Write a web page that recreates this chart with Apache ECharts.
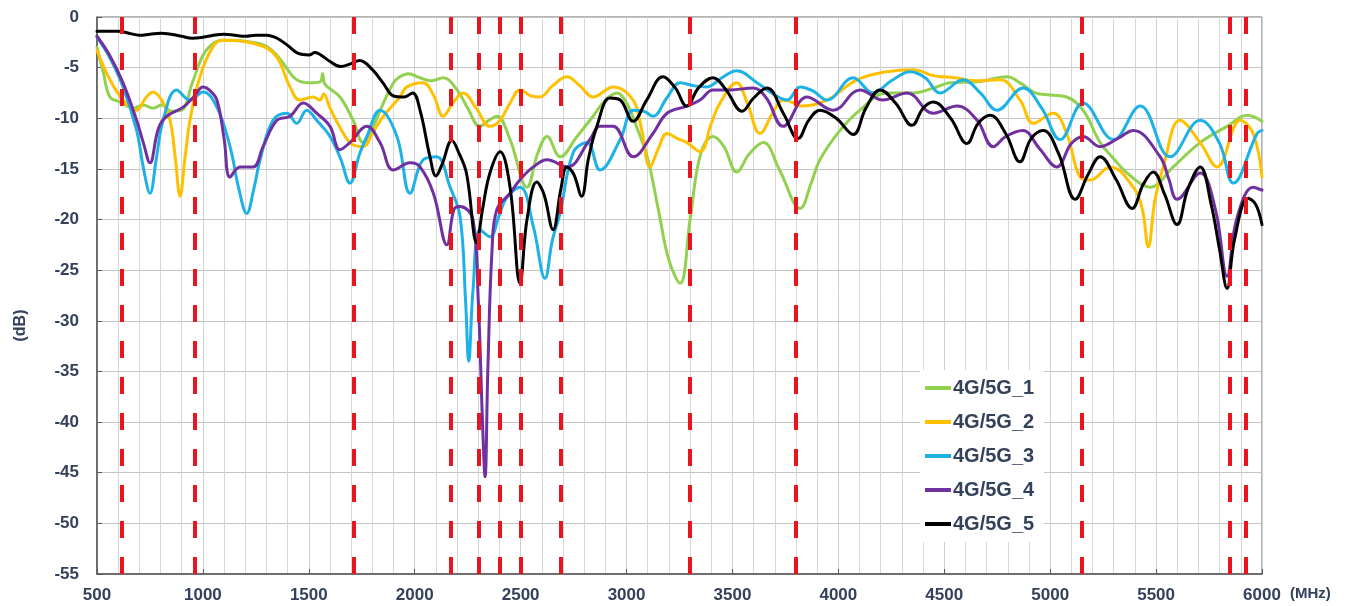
<!DOCTYPE html>
<html>
<head>
<meta charset="utf-8">
<script src="https://cdn.jsdelivr.net/npm/echarts@6/dist/echarts.min.js"></script>
<style>
html,body{margin:0;padding:0;background:#fff;}
#chart{width:1356px;height:606px;}
</style>
</head>
<body>
<div id="chart"></div>
<script>
// ---- Data (frequency in MHz, level in dB) ----
const seriesNames = ['4G/5G_1', '4G/5G_2', '4G/5G_3', '4G/5G_4', '4G/5G_5'];
const xTicks = [500, 1000, 1500, 2000, 2500, 3000, 3500, 4000, 4500, 5000, 5500, 6000];
const yTicks = [0, -5, -10, -15, -20, -25, -30, -35, -40, -45, -50, -55];
const bandLines = [617, 960, 1710, 2170, 2300, 2400, 2500, 2690, 3300, 3800, 5150, 5850, 5925];

const s1Freq = [500,530,561,609,671,718,764,805,850,900,
  950,1000,1050,1100,1200,1290,1350,1400,1443,1500,
  1553,1565,1575,1647,1709,1757,1800,1852,1900,1930,
  1970,2025,2080,2134,2200,2250,2308,2350,2388,2450,
  2530,2580,2625,2686,2766,2842,2900,2955,3000,3050,
  3100,3150,3200,3253,3300,3350,3408,3460,3520,3580,
  3646,3720,3820,3870,3913,4008,4102,4229,4353,4450,
  4527,4655,4797,4858,4930,5000,5078,5155,5236,5300,
  5363,5472,5581,5708,5835,5930,6000];
const s1Db = [-3,-5.5,-7.9,-8.4,-9,-8.7,-9,-8.7,-9.3,-9.2,
  -6.5,-3.8,-2.6,-2.3,-2.4,-2.8,-3.8,-5.2,-6.2,-6.5,
  -6.4,-5.6,-6.6,-7.9,-10.2,-12.4,-11,-8.5,-6.5,-5.9,
  -5.6,-6.0,-6.3,-6.0,-7.2,-9,-10.8,-10.2,-9.8,-12.1,
  -16.8,-13.5,-11.8,-13.8,-11.8,-9.8,-8.2,-7.5,-8.5,-11,
  -14,-19,-24,-26.3,-20,-13.5,-11.8,-12.8,-15.3,-13.5,
  -12.4,-15,-18.9,-16.5,-14.1,-11.2,-9.2,-7.5,-7.5,-7,
  -6.5,-6.4,-5.9,-6.5,-7.5,-7.7,-7.9,-9.2,-12.4,-14,
  -15.4,-16.8,-14.8,-12.4,-10.8,-9.7,-10.3];

const s2Freq = [500,561,623,687,730,764,805,845,870,892,
  915,939,986,1048,1095,1189,1284,1330,1364,1411,
  1458,1520,1553,1570,1600,1650,1700,1757,1800,1852,
  1930,1963,2040,2090,2134,2180,2228,2290,2355,2403,
  2450,2497,2550,2592,2650,2719,2780,2842,2937,3031,
  3070,3111,3150,3191,3240,3285,3347,3400,3441,3520,
  3570,3630,3690,3739,3790,3820,3946,4088,4229,4353,
  4450,4550,4650,4763,4858,4920,5014,5078,5141,5189,
  5283,5392,5435,5463,5495,5534,5613,5708,5788,5897,
  5958,6000];
const s2Db = [-3.3,-6.2,-8.2,-9.2,-8,-7.4,-8.2,-10.2,-14,-17.7,
  -14,-10.2,-5.9,-2.9,-2.3,-2.4,-2.9,-3.5,-4.5,-6.9,
  -8.2,-7.9,-8.2,-7.6,-9,-11,-12.5,-12.8,-11.5,-9.8,
  -7.9,-6.9,-6.5,-7.8,-9.8,-8.5,-7.5,-9,-10.8,-10.2,
  -8.5,-7.2,-7.8,-7.9,-6.8,-5.9,-6.8,-7.9,-6.9,-8.2,
  -11,-14.8,-13,-11.5,-12,-12.4,-13.3,-10.5,-8.5,-6.5,
  -8.5,-11.5,-9.5,-8.2,-8.5,-8.8,-8.2,-6.2,-5.4,-5.2,
  -5.8,-6,-6.3,-6.2,-8.2,-10.5,-9.5,-11.5,-15.8,-16.1,
  -14.8,-16.8,-19,-22.7,-18,-14.8,-10.2,-12.4,-14.8,-10.2,
  -11.5,-15.8];

const s3Freq = [500,560,623,687,720,750,780,812,876,939,
  1001,1066,1128,1170,1207,1240,1270,1331,1397,1443,
  1490,1537,1600,1650,1694,1740,1774,1836,1916,1978,
  2040,2103,2167,2214,2240,2255,2275,2308,2355,2400,
  2435,2497,2560,2615,2650,2686,2748,2814,2875,2970,
  3031,3080,3125,3190,3253,3320,3380,3450,3520,3616,
  3700,3758,3820,3880,3946,4070,4164,4250,4339,4410,
  4480,4589,4670,4749,4872,4960,5047,5155,5298,5425,
  5566,5708,5800,5864,5977,6000];
const s3Db = [-2,-4,-6.9,-11.2,-15,-17.4,-14,-10.2,-7.2,-8.2,
  -7.4,-8.9,-12.8,-17,-19.4,-17,-14.1,-10.2,-9.5,-10.5,
  -9.2,-10.2,-11.8,-14,-16.4,-13.5,-11.8,-9.2,-11.8,-17.4,
  -14.1,-13.8,-16.8,-19.7,-28,-34,-27,-21,-21.7,-19.5,
  -17.8,-16.8,-20.7,-25.8,-22,-19.4,-13.4,-12.4,-15.1,-12.1,
  -9.2,-9.3,-9.8,-8,-6.5,-6.8,-6.9,-6,-5.3,-6.5,
  -7.7,-8.2,-6.9,-7.3,-8.2,-6,-7.5,-6.3,-5.4,-6,
  -7.5,-6.2,-7.5,-9.2,-7,-9,-12.1,-8.5,-12.1,-8.8,
  -13.8,-10.2,-12.5,-16.4,-11.5,-11.2];

const s4Freq = [500,560,623,687,720,750,790,829,907,960,
  1001,1030,1066,1100,1128,1175,1237,1284,1349,1411,
  1474,1537,1600,1647,1694,1774,1836,1899,1978,2025,
  2088,2152,2185,2214,2275,2300,2320,2332,2345,2365,
  2388,2450,2500,2560,2625,2719,2827,2875,2937,3031,
  3125,3191,3285,3347,3408,3489,3597,3660,3739,3852,
  3975,4102,4210,4324,4448,4561,4655,4731,4790,4870,
  4950,5031,5100,5155,5236,5320,5392,5519,5560,5599,
  5708,5780,5835,5880,5958,6000];
const s4Db = [-1.9,-3.8,-6.5,-10.2,-12.5,-14.4,-11,-9.8,-8.9,-7.8,
  -6.9,-7.2,-8.2,-12,-15.8,-14.8,-14.8,-12.8,-10.2,-9.8,
  -8.5,-9.5,-10.8,-13.1,-12.4,-10.8,-12.4,-15.1,-14.4,-14.8,
  -17.4,-22.5,-19,-18.7,-20,-28,-40,-45.4,-35,-23,
  -19,-17.4,-16,-14.8,-14.1,-14.8,-12.1,-10.8,-10.8,-13.8,
  -11.5,-9.5,-8.8,-8.2,-7.2,-7.2,-7,-8,-10.8,-7.9,
  -9.2,-7.2,-8.2,-7.5,-9.5,-8.8,-10.2,-12.8,-11.8,-11.2,
  -13,-14.8,-12.5,-11.8,-12.8,-12,-11.2,-13.8,-16,-18,
  -15.4,-19,-25.6,-20,-16.8,-17.1];

const s5Freq = [500,600,650,700,750,800,850,900,950,1000,
  1050,1100,1150,1200,1250,1300,1350,1400,1450,1500,
  1530,1560,1600,1650,1700,1740,1800,1850,1900,1950,
  1990,2025,2072,2100,2130,2175,2210,2245,2293,2320,
  2355,2403,2450,2497,2530,2576,2610,2653,2690,2718,
  2750,2788,2820,2860,2922,2970,3031,3095,3172,3230,
  3284,3340,3408,3470,3545,3600,3663,3740,3810,3860,
  3913,3990,4070,4130,4197,4270,4348,4400,4448,4530,
  4607,4660,4716,4790,4857,4910,4967,5040,5118,5180,
  5236,5310,5387,5440,5486,5540,5599,5650,5708,5760,
  5800,5835,5870,5934,5970,6000];
const s5Db = [-1.4,-1.4,-1.6,-1.8,-1.7,-1.6,-1.7,-1.9,-2.1,-2.0,
  -1.8,-1.7,-1.8,-1.9,-1.8,-1.8,-2.1,-2.8,-3.6,-3.75,
  -3.5,-3.8,-4.4,-4.9,-4.6,-4.3,-5.2,-6.5,-7.8,-7.9,
  -7.5,-9.2,-13.8,-15.7,-14.5,-12.2,-13.5,-15.5,-22.3,-19,
  -15.4,-13.3,-16.8,-26.3,-20,-16.3,-17.5,-21,-17,-14.8,
  -15.5,-17.7,-14,-10.8,-8,-8.2,-10.3,-8.2,-5.9,-7,
  -8.8,-7,-6,-7.2,-9.3,-8,-7,-9.5,-12,-10.2,
  -9.2,-10,-11.6,-9,-7.2,-8.5,-10.7,-9,-8.4,-10,
  -12.5,-10.5,-9.7,-11.5,-14.3,-12,-11.2,-13.5,-18,-15.5,
  -13.8,-16,-18.9,-16.5,-15.3,-17.5,-20.5,-17,-14.8,-18.5,
  -23,-26.8,-22,-17.9,-18.5,-20.5];

const seriesColors = ['#92d050', '#ffc000', '#1eb1e6', '#7030a0', '#000000'];
// ---- Build chart ----
const freqSets = [s1Freq, s2Freq, s3Freq, s4Freq, s5Freq];
const dbSets = [s1Db, s2Db, s3Db, s4Db, s5Db];
const textColor = '#33415a';
const fontFam = '"Liberation Sans", Arial, sans-serif';

const lineSeries = seriesNames.map((name, k) => ({
  name: name,
  type: 'line',
  data: freqSets[k].map((f, i) => [f, dbSets[k][i]]),
  showSymbol: false,
  smooth: 0.4,
  lineStyle: { width: 3, color: seriesColors[k], join: 'round', cap: 'round' },
  itemStyle: { color: seriesColors[k] },
  z: 2
}));

lineSeries.push({
  name: 'bands',
  type: 'line',
  data: [],
  z: 4,
  markLine: {
    silent: true,
    symbol: ['none', 'none'],
    label: { show: false },
    lineStyle: { color: '#e8141e', width: 4, type: [17, 19] },
    data: bandLines.map(v => ({ xAxis: v }))
  }
});

const chart = echarts.init(document.getElementById('chart'));
chart.setOption({
  animation: false,
  backgroundColor: '#ffffff',
  textStyle: { fontFamily: fontFam },
  grid: {
    left: 97, right: 94, top: 17, bottom: 32,
    show: true, borderColor: '#666', borderWidth: 1, backgroundColor: 'transparent'
  },
  legend: {
    data: seriesNames,
    orient: 'vertical',
    left: 920,
    top: 370,
    padding: [8, 10, 8, 5],
    itemGap: 14,
    itemWidth: 26,
    itemHeight: 4,
    icon: 'rect',
    backgroundColor: '#ffffff',
    textStyle: { fontSize: 20, fontWeight: 'bold', color: textColor, fontFamily: fontFam, padding: [0, 0, 0, -3], lineHeight: 20 }
  },
  xAxis: {
    type: 'value',
    min: xTicks[0],
    max: xTicks[xTicks.length - 1],
    interval: 500,
    name: '(MHz)',
    nameLocation: 'end',
    nameGap: 28,
    nameTextStyle: { fontSize: 15, fontWeight: 'bold', color: textColor, align: 'left', verticalAlign: 'top', padding: [12, 0, 0, 0] },
    axisLine: { show: true, onZero: false, lineStyle: { color: '#555', width: 1.5 } },
    axisTick: { show: true, inside: true, length: 5, lineStyle: { color: '#555' } },
    axisLabel: { fontSize: 17, fontWeight: 'bold', color: textColor, margin: 13, formatter: v => String(v) },
    splitLine: { show: true, lineStyle: { color: '#cfcfcf', width: 1 } },
    minorTick: { show: false, splitNumber: 5 },
    minorSplitLine: { show: true, lineStyle: { color: '#d6d6d6', width: 1 } }
  },
  yAxis: {
    type: 'value',
    min: yTicks[yTicks.length - 1],
    max: yTicks[0],
    interval: 5,
    name: '(dB)',
    nameLocation: 'middle',
    nameGap: 68,
    nameTextStyle: { fontSize: 16, fontWeight: 'bold', color: textColor, padding: [0, 60, 0, 0] },
    axisLine: { show: true, lineStyle: { color: '#555', width: 1.5 } },
    axisTick: { show: true, inside: true, length: 5, lineStyle: { color: '#555' } },
    axisLabel: { fontSize: 17, fontWeight: 'bold', color: textColor, margin: 18 },
    splitLine: { show: true, lineStyle: { color: '#c4c4c4', width: 1 } }
  },
  series: lineSeries
});
</script>
</body>
</html>
